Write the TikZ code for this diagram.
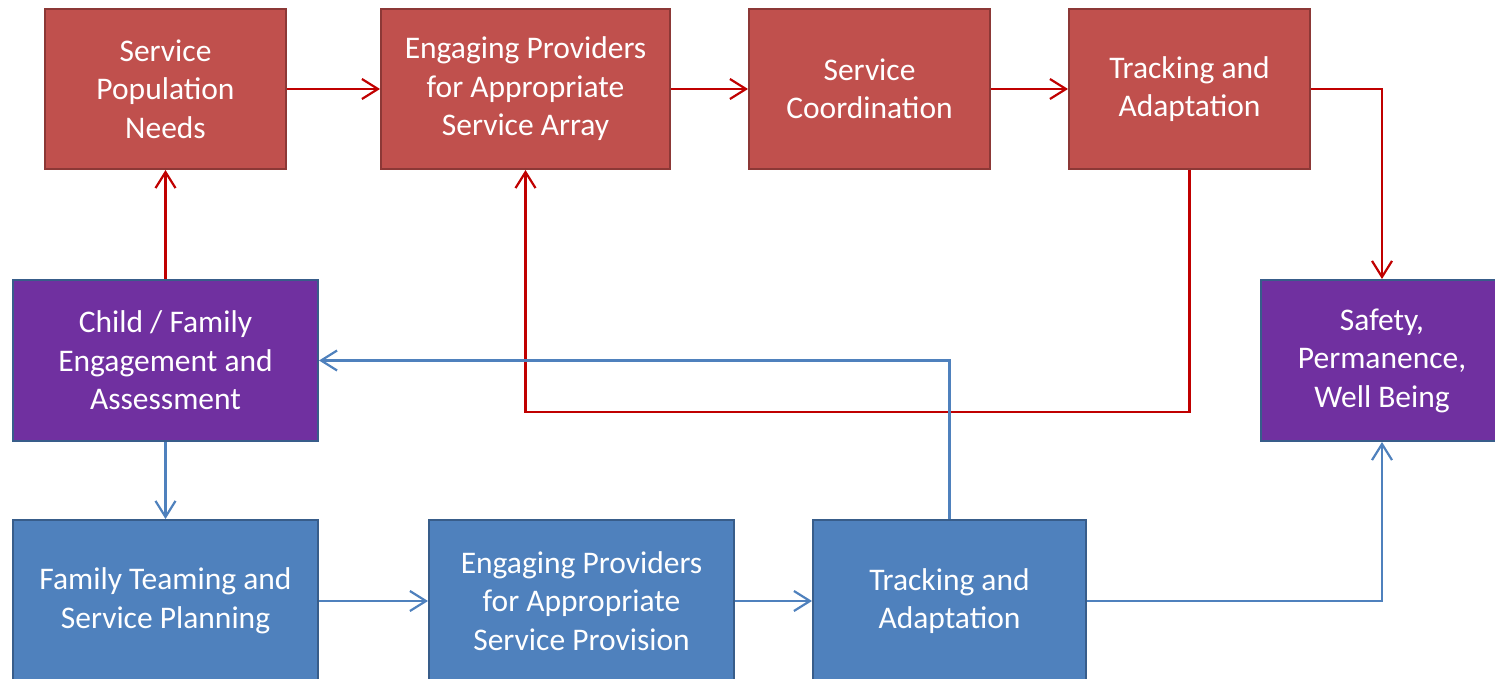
\documentclass[tikz,border=0pt]{standalone}
\usepackage{fontspec}
\setmainfont{Carlito}
\usetikzlibrary{arrows.meta}
\definecolor{redfill}{HTML}{C0504D}
\definecolor{redline}{HTML}{8C3836}
\definecolor{purplefill}{HTML}{7030A0}
\definecolor{bluefill}{HTML}{4F81BD}
\definecolor{blueline}{HTML}{385D8A}
\definecolor{redarrow}{HTML}{C00000}
\definecolor{bluearrow}{HTML}{4F81BD}
\tikzset{
  box/.style={draw, line width=2pt, inner sep=0pt, align=center, text=white,
    font=\fontsize{31.5}{38.5}\selectfont},
  redbox/.style={box, fill=redfill, draw=redline},
  purplebox/.style={box, fill=purplefill, draw=blueline},
  bluebox/.style={box, fill=bluefill, draw=blueline},
  redconn/.style={draw=redarrow, line width=2.2pt, -{Straight Barb[length=16pt,width=20pt]}},
  blueconn/.style={draw=bluearrow, line width=2.2pt, -{Straight Barb[length=16pt,width=20pt]}},
}
\begin{document}
\begin{tikzpicture}[x=1pt,y=-1pt]
\useasboundingbox (0,0) rectangle (1495,679);
\begin{scope}
\clip (0,0) rectangle (1495,679);
\node[redbox, minimum width=241pt, minimum height=160pt] (SPN) at (165.5,89) {Service\\Population\\Needs};
\node[redbox, minimum width=289pt, minimum height=160pt] (EPA) at (525.5,89) {Engaging Providers\\for Appropriate\\Service Array};
\node[redbox, minimum width=241pt, minimum height=160pt] (SC) at (869.5,89) {Service\\Coordination};
\node[redbox, minimum width=241pt, minimum height=160pt] (TA) at (1189.5,89) {Tracking and\\Adaptation};
\node[purplebox, minimum width=305pt, minimum height=161pt] (CFE) at (165.5,360.5) {Child / Family\\Engagement and\\Assessment};
\node[purplebox, minimum width=242pt, minimum height=161pt] (SPW) at (1382,360.5) {Safety,\\Permanence,\\Well Being};
\node[bluebox, minimum width=305pt, minimum height=162pt] (FTS) at (165.5,601) {Family Teaming and\\Service Planning};
\node[bluebox, minimum width=305pt, minimum height=162pt] (EPS) at (581.5,601) {Engaging Providers\\for Appropriate\\Service Provision};
\node[bluebox, minimum width=273pt, minimum height=162pt] (TAB) at (949.5,601) {Tracking and\\Adaptation};

\draw[redconn] (SPN.east) -- (EPA.west);
\draw[redconn] (EPA.east) -- (SC.west);
\draw[redconn] (SC.east) -- (TA.west);
\draw[redconn] (TA.east) -| (SPW.north);
\draw[redconn] (TA.south) -- (TA.south |- 0,412) -| (EPA.south);
\draw[redconn] (CFE.north) -- (SPN.south);

\draw[blueconn] (CFE.south) -- (FTS.north);
\draw[blueconn] (FTS.east) -- (EPS.west);
\draw[blueconn] (EPS.east) -- (TAB.west);
\draw[blueconn] (TAB.north) |- (CFE.east);
\draw[blueconn] (TAB.east) -| (SPW.south);
\end{scope}
\end{tikzpicture}
\end{document}
